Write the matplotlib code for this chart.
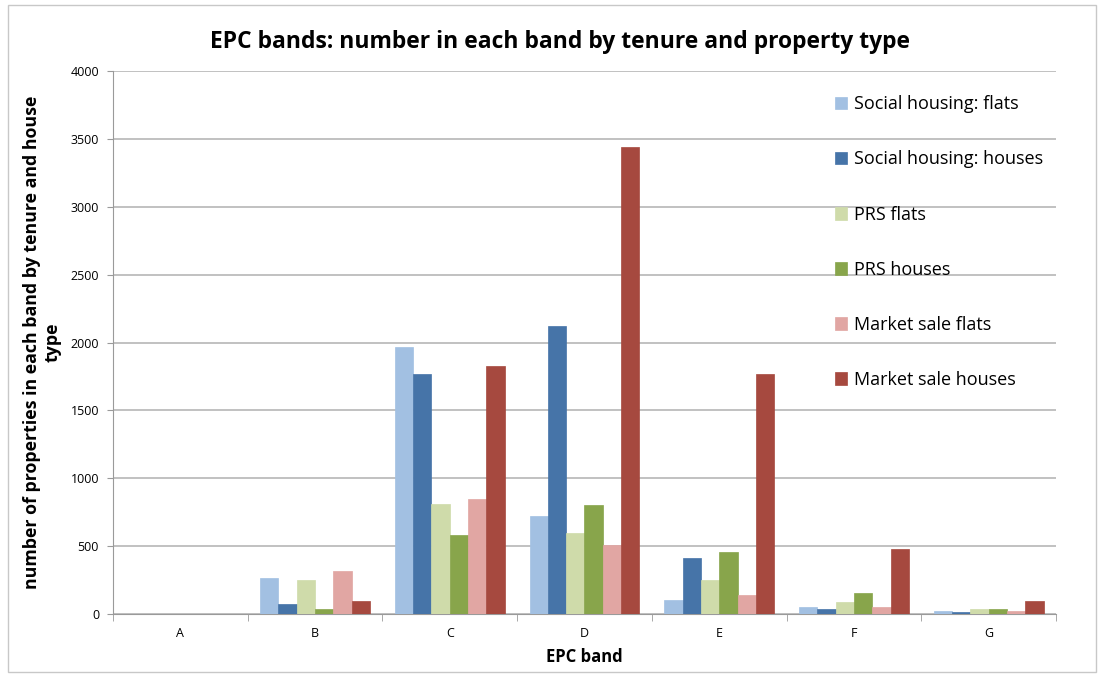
import matplotlib
matplotlib.use("Agg")
import matplotlib.pyplot as plt
import numpy as np
from matplotlib.patches import Rectangle

bands = ["A", "B", "C", "D", "E", "F", "G"]
series_names = [
    "Social housing: flats",
    "Social housing: houses",
    "PRS flats",
    "PRS houses",
    "Market sale flats",
    "Market sale houses",
]
sh_flats = [0, 262, 1970, 720, 105, 52, 20]
sh_houses = [0, 74, 1770, 2125, 410, 39, 18]
prs_flats = [0, 250, 810, 600, 253, 86, 39]
prs_houses = [0, 39, 585, 800, 454, 152, 39]
ms_flats = [0, 319, 845, 505, 140, 52, 22]
ms_houses = [0, 96, 1825, 3440, 1770, 476, 96]
colors = ["#a2c0e2", "#4674a8", "#cfdbaa", "#88a54b", "#e1a6a3", "#a6493f"]

plt.rcParams["font.family"] = ["Open Sans", "DejaVu Sans"]

fig = plt.figure(figsize=(11.03, 6.77), dpi=100)
fig.patches.append(Rectangle((0.007, 0.007), 0.987, 0.985, transform=fig.transFigure,
                             fill=False, edgecolor="#c8c8c8", linewidth=1.0))
ax = fig.add_axes([0.1024, 0.093, 0.855, 0.802])

values = [sh_flats, sh_houses, prs_flats, prs_houses, ms_flats, ms_houses]
x = np.arange(len(bands))
n = len(values)
w = 0.136
for i, (name, vals) in enumerate(zip(series_names, values)):
    ax.bar(x + (i - (n - 1) / 2) * w, vals, w, color=colors[i], label=name,
           edgecolor=colors[i], linewidth=0.5, zorder=3)

ax.set_xlim(-0.5, len(bands) - 0.5)
ax.set_ylim(0, 4000)
ax.set_yticks(np.arange(0, 4001, 500))
ax.yaxis.grid(True, color="#bcbcbc", linewidth=1.3, zorder=0)
ax.set_axisbelow(True)

ax.set_xticks(x)
ax.set_xticklabels(bands, fontsize=9)
ax.set_xticks(np.arange(-0.5, len(bands)), minor=True)
ax.tick_params(axis="x", which="major", length=0, pad=9)
ax.tick_params(axis="x", which="minor", length=5, color="#9a9a9a")
ax.tick_params(axis="y", length=4, color="#9a9a9a", labelsize=9, pad=6)

for s in ["top", "right"]:
    ax.spines[s].set_visible(False)
for s in ["left", "bottom"]:
    ax.spines[s].set_color("#9a9a9a")

fig.text(0.508, 0.938, "EPC bands: number in each band by tenure and property type",
         fontsize=16.5, fontweight="bold", ha="center", va="center")
ax.set_xlabel("EPC band", fontsize=12, fontweight="bold", labelpad=6)
ax.set_ylabel("number of properties in each band by tenure and house\ntype",
              fontsize=12.8, fontweight="bold", labelpad=6)

ax.legend(loc="upper left", bbox_to_anchor=(0.748, 0.985), frameon=False, fontsize=13,
          handlelength=0.7, handleheight=0.7, handletextpad=0.4, labelspacing=2.05)

fig.savefig("out.png", dpi=100)
